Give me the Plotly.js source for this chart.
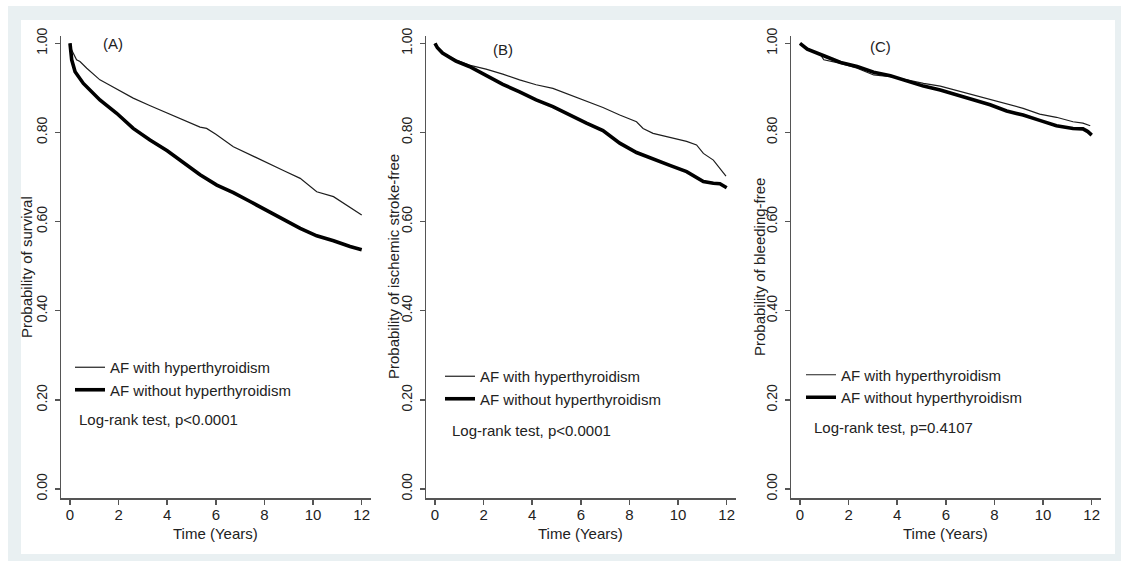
<!DOCTYPE html>
<html>
<head>
<meta charset="utf-8">
<script src="https://cdn.plot.ly/plotly-3.0.1.min.js"></script>
<style>
  html, body { margin: 0; padding: 0; background: #ffffff; }
  #chart { width: 1121px; height: 561px; }
</style>
</head>
<body>
<div id="chart"></div>
<script>
// ---------------- DATA ----------------
const seriesNames = ["AF with hyperthyroidism", "AF without hyperthyroidism"];
const panelLabels = ["(A)", "(B)", "(C)"];
const yTitles = ["Probability of survival", "Probability of ischemic stroke-free", "Probability of bleeding-free"];
const xTitle = "Time (Years)";
const logRankTexts = ["Log-rank test, p<0.0001", "Log-rank test, p<0.0001", "Log-rank test, p=0.4107"];
const xTickVals = [0, 2, 4, 6, 8, 10, 12];
const yTickVals = [0, 0.2, 0.4, 0.6, 0.8, 1.0];

// Panel A: survival
const timeA_with = [0, 0.07, 0.27, 0.41, 0.69, 1.23, 1.51, 2.0, 2.6, 3.3, 4.0, 4.7, 5.35, 5.62, 6.0, 6.72, 7.4, 8.09, 8.8, 9.47, 9.8, 10.15, 10.84, 11.25, 11.66, 12.0];
const survA_with = [1, 0.985, 0.963, 0.959, 0.944, 0.918, 0.910, 0.895, 0.877, 0.860, 0.843, 0.826, 0.812, 0.809, 0.796, 0.768, 0.750, 0.731, 0.714, 0.697, 0.683, 0.667, 0.656, 0.641, 0.626, 0.615];
const timeA_without = [0, 0.07, 0.21, 0.55, 1.23, 1.92, 2.6, 3.29, 4.0, 4.69, 5.35, 6.04, 6.72, 7.41, 8.09, 8.78, 9.47, 10.15, 10.84, 11.52, 12.0];
const survA_without = [1, 0.963, 0.936, 0.910, 0.873, 0.843, 0.809, 0.783, 0.759, 0.731, 0.705, 0.682, 0.665, 0.645, 0.625, 0.604, 0.585, 0.568, 0.557, 0.544, 0.537];

// Panel B: ischemic stroke-free
const timeB_with = [0, 0.3, 0.86, 1.41, 2.1, 2.79, 3.48, 4.16, 4.85, 5.54, 6.23, 6.91, 7.6, 8.29, 8.56, 8.97, 9.66, 10.35, 10.76, 11.04, 11.45, 11.72, 11.97];
const survB_with = [1, 0.978, 0.963, 0.951, 0.942, 0.931, 0.918, 0.907, 0.899, 0.884, 0.869, 0.856, 0.839, 0.824, 0.809, 0.798, 0.789, 0.780, 0.772, 0.753, 0.738, 0.720, 0.702];
const timeB_without = [0, 0.1, 0.31, 0.86, 1.41, 2.1, 2.79, 3.48, 4.16, 4.85, 5.54, 6.23, 6.91, 7.6, 8.29, 8.97, 9.66, 10.35, 11.04, 11.45, 11.72, 12.0];
const survB_without = [1, 0.99, 0.978, 0.960, 0.948, 0.927, 0.908, 0.891, 0.873, 0.858, 0.839, 0.821, 0.804, 0.776, 0.755, 0.740, 0.726, 0.712, 0.690, 0.686, 0.685, 0.676];

// Panel C: bleeding-free
const timeC_with = [0, 0.3, 0.85, 0.98, 1.67, 2.35, 3.03, 3.72, 4.4, 5.08, 5.77, 6.45, 7.13, 7.82, 8.5, 9.18, 9.86, 10.55, 11.23, 11.64, 11.94];
const survC_with = [1, 0.989, 0.974, 0.963, 0.955, 0.944, 0.929, 0.925, 0.918, 0.910, 0.904, 0.894, 0.884, 0.875, 0.865, 0.854, 0.841, 0.834, 0.824, 0.821, 0.815];
const timeC_without = [0, 0.3, 0.98, 1.67, 2.35, 3.03, 3.72, 4.4, 5.08, 5.77, 6.45, 7.13, 7.82, 8.5, 9.18, 9.86, 10.55, 11.23, 11.64, 11.84, 12.0];
const survC_without = [1, 0.987, 0.972, 0.957, 0.948, 0.935, 0.927, 0.916, 0.904, 0.895, 0.884, 0.873, 0.862, 0.848, 0.839, 0.827, 0.815, 0.809, 0.808, 0.802, 0.794];

// ---------------- LAYOUT HELPERS ----------------
const W = 1121, H = 561;
const px = v => v / W;          // pixel x -> paper x
const py = v => 1 - v / H;      // pixel y -> paper y

const FONT = '"Liberation Sans", Arial, sans-serif';
const TEXT = '#222222';
const AXIS = '#555555';

const panels = [
  { xa: 'x',  ya: 'y',  leg: 'legend',  x0: 61,  x1: 370.7,
    t: [timeA_with, timeA_without], s: [survA_with, survA_without],
    legX: 70, legY: 351, lrX: 76.7, lrY: 419.3, lab: [113, 44], ytx: 26 },
  { xa: 'x2', ya: 'y2', leg: 'legend2', x0: 426, x1: 735.7,
    t: [timeB_with, timeB_without], s: [survB_with, survB_without],
    legX: 440, legY: 360, lrX: 450, lrY: 430.7, lab: [503, 49], ytx: 393 },
  { xa: 'x3', ya: 'y3', leg: 'legend3', x0: 791, x1: 1100.7,
    t: [timeC_with, timeC_without], s: [survC_with, survC_without],
    legX: 801, legY: 358.5, lrX: 812, lrY: 427.7, lab: [880, 46], ytx: 759 }
];
const yTop = 36, yBot = 498;

const traces = [];
const layout = {
  width: W, height: H,
  margin: { l: 0, r: 0, t: 0, b: 0 },
  paper_bgcolor: '#ffffff',
  plot_bgcolor: 'rgba(0,0,0,0)',
  font: { family: FONT, size: 15, color: TEXT },
  showlegend: true,
  annotations: [],
  shapes: [
    { type: 'rect', xref: 'paper', yref: 'paper', x0: px(8), x1: px(1121), y0: py(561), y1: py(6),
      fillcolor: '#e9f0f2', line: { width: 0 }, layer: 'below' },
    { type: 'rect', xref: 'paper', yref: 'paper', x0: px(21), x1: px(1115), y0: py(554), y1: py(20),
      fillcolor: '#ffffff', line: { width: 0 }, layer: 'below' }
  ]
};

panels.forEach((p, i) => {
  const sfx = i === 0 ? '' : String(i + 1);
  [0, 1].forEach(k => {
    traces.push({
      type: 'scatter', mode: 'lines',
      x: p.t[k], y: p.s[k],
      xaxis: p.xa, yaxis: p.ya,
      name: seriesNames[k],
      legend: p.leg,
      line: { color: k === 0 ? '#1e1e1e' : '#000000', width: k === 0 ? 1.2 : 3.6, shape: 'linear' },
      hoverinfo: 'skip'
    });
  });
  layout['xaxis' + sfx] = {
    domain: [px(p.x0), px(p.x1)],
    range: [-0.37, 12.37],
    anchor: p.ya,
    tickvals: xTickVals,
    showgrid: false, zeroline: false,
    showline: true, linecolor: AXIS, linewidth: 1.5,
    ticks: 'outside', ticklen: 5, tickwidth: 1.5, tickcolor: AXIS,
    tickfont: { family: FONT, size: 15, color: TEXT },
    ticklabelstandoff: -3,
    fixedrange: true
  };
  layout['yaxis' + sfx] = {
    domain: [py(yBot), py(yTop)],
    range: [-0.0202, 1.0164],
    anchor: p.xa,
    tickvals: yTickVals,
    tickformat: '.2f',
    tickangle: -90,
    showgrid: false, zeroline: false,
    showline: true, linecolor: AXIS, linewidth: 1.5,
    ticks: 'outside', ticklen: 5, tickwidth: 1.5, tickcolor: AXIS,
    tickfont: { family: FONT, size: 14, color: TEXT },
    ticklabelstandoff: 2,
    fixedrange: true
  };
  layout[p.leg] = {
    x: px(p.legX), y: py(p.legY), xanchor: 'left', yanchor: 'top',
    bgcolor: 'rgba(0,0,0,0)', borderwidth: 0,
    font: { family: FONT, size: 15, color: TEXT },
    itemwidth: 30, tracegroupgap: 0, traceorder: 'normal',
    itemclick: false, itemdoubleclick: false
  };
  layout.annotations.push(
    { xref: 'paper', yref: 'paper', x: px(p.lab[0]), y: py(p.lab[1]), xanchor: 'center', yanchor: 'middle',
      text: panelLabels[i], showarrow: false, font: { family: FONT, size: 15, color: TEXT } },
    { xref: 'paper', yref: 'paper', x: px(p.lrX), y: py(p.lrY), xanchor: 'left', yanchor: 'middle',
      text: logRankTexts[i], showarrow: false, font: { family: FONT, size: 15, color: TEXT } },
    { xref: 'paper', yref: 'paper', x: px((p.x0 + p.x1) / 2), y: py(533.5), xanchor: 'center', yanchor: 'middle',
      text: xTitle, showarrow: false, font: { family: FONT, size: 15, color: TEXT } },
    { xref: 'paper', yref: 'paper', x: px(p.ytx), y: py((yTop + yBot) / 2), xanchor: 'center', yanchor: 'middle',
      text: yTitles[i], textangle: -90, showarrow: false, font: { family: FONT, size: 15, color: TEXT } }
  );
});

Plotly.newPlot('chart', traces, layout, { displayModeBar: false, staticPlot: true });
</script>
</body>
</html>
